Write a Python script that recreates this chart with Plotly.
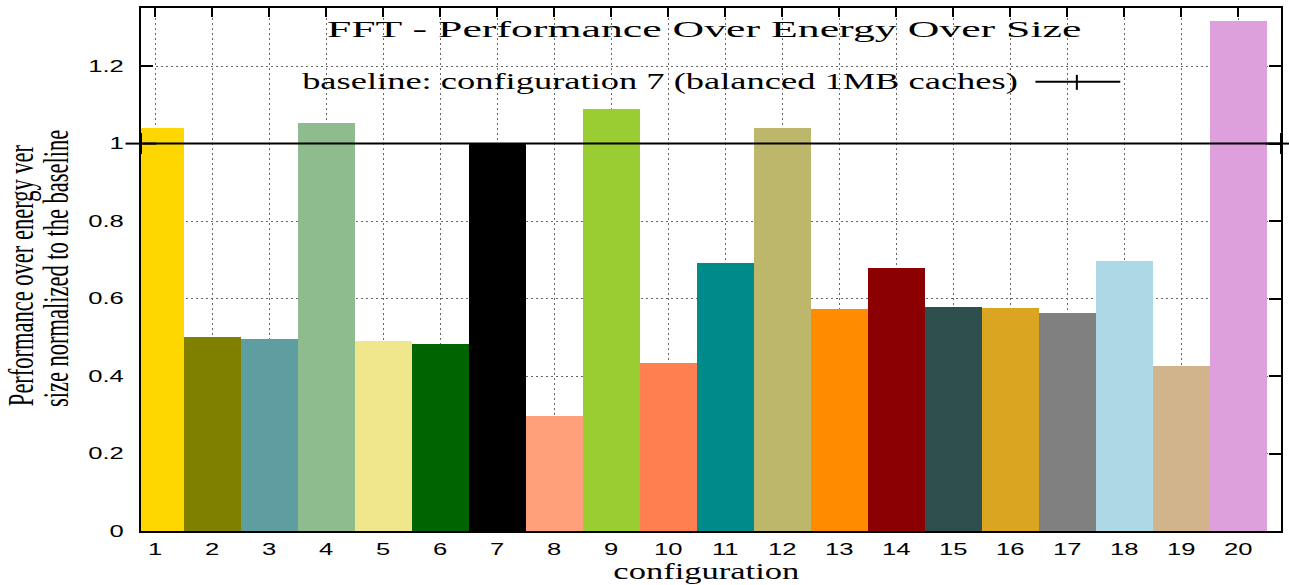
import plotly.graph_objects as go

# ---------------- data ----------------
configs = list(range(1, 21))
values = [1.039, 0.500, 0.495, 1.054, 0.490, 0.482, 1.000, 0.296, 1.090, 0.433,
          0.693, 1.039, 0.572, 0.678, 0.577, 0.575, 0.564, 0.698, 0.425, 1.317]
colors = ["#FFD700", "#808000", "#5F9EA0", "#8FBC8F", "#F0E68C", "#006400", "#000000",
          "#FFA07A", "#9ACD32", "#FF7F50", "#008B8B", "#BDB76B", "#FF8C00", "#8B0000",
          "#2F4F4F", "#DAA520", "#808080", "#ADD8E6", "#D2B48C", "#DDA0DD"]
baseline_value = 1.0
baseline_label = "baseline: configuration 7 (balanced 1MB caches)"
title_text = "FFT - Performance Over Energy Over Size"
x_title = "configuration"
y_title_lines = ["Performance over energy ver", "size normalized to the baseline"]
x_range = [0.75, 20.75]
y_range = [0, 1.35]
y_ticks = [0, 0.2, 0.4, 0.6, 0.8, 1.0, 1.2]
y_ticktext = ["0", "0.2", "0.4", "0.6", "0.8", "1", "1.2"]

# ---------------- layout helpers (pixel -> paper) ----------------
W, H = 1289, 585
ML, MR, MT, MB = 141, 6, 7, 54
PW, PH = W - ML - MR, H - MT - MB


def px(x):
    return (x - ML) / PW


def py(y):
    return (H - MB - y) / PH


SERIF = "Liberation Serif, Times New Roman, serif"
SANS = "Liberation Sans, Arial, sans-serif"

fig = go.Figure()
fig.add_trace(go.Bar(x=configs, y=values, marker=dict(color=colors, line=dict(width=0)),
                     width=1.0, showlegend=False, hoverinfo="x+y"))
fig.add_trace(go.Scatter(x=x_range, y=[baseline_value] * 2, mode="lines+markers",
                         line=dict(color="black", width=2),
                         marker=dict(symbol="line-ns", size=15, color="black",
                                     line=dict(width=2, color="black")),
                         cliponaxis=False, showlegend=False, name=baseline_label))
fig.add_trace(go.Scatter(x=x_range, y=[baseline_value] * 2, mode="markers",
                         marker=dict(symbol="line-ew", size=22, color="black",
                                     line=dict(width=2, color="black")),
                         cliponaxis=False, showlegend=False, hoverinfo="skip"))

axis_common = dict(
    showline=True, linecolor="black", linewidth=2, mirror="ticks",
    ticks="inside", tickcolor="black", tickwidth=1.5,
    showgrid=True, gridcolor="#666", gridwidth=1, griddash="2px,3px",
    zeroline=False, layer="below traces",
    tickfont=dict(family=SANS, size=16, color="black"),
)

fig.update_layout(
    width=W, height=H, autosize=False,
    margin=dict(l=ML, r=MR, t=MT, b=MB, pad=0),
    paper_bgcolor="white", plot_bgcolor="white",
    bargap=0,
    showlegend=False,
    title=dict(text=title_text, x=0.5, xanchor="center", y=1 - 29.1 / H, yanchor="middle",
               yref="container", font=dict(family=SERIF, size=24, color="black")),
    xaxis=dict(range=x_range, tickmode="array", tickvals=configs,
               ticklen=9, ticklabelstandoff=3, **axis_common),
    yaxis=dict(range=y_range, tickmode="array", tickvals=y_ticks, ticktext=y_ticktext,
               ticklen=12, ticklabelstandoff=12, **axis_common),
    annotations=[
        dict(text=baseline_label, xref="paper", yref="paper", x=px(1018), y=py(80.2),
             xanchor="right", yanchor="middle", showarrow=False,
             font=dict(family=SERIF, size=24, color="black")),
        dict(text=y_title_lines[0], xref="paper", yref="paper", x=px(21), y=py(274.5),
             xanchor="center", yanchor="middle", textangle=-90, showarrow=False,
             font=dict(family=SERIF, size=22.5, color="black")),
        dict(text=y_title_lines[1], xref="paper", yref="paper", x=px(56), y=py(268.5),
             xanchor="center", yanchor="middle", textangle=-90, showarrow=False,
             font=dict(family=SERIF, size=22.5, color="black")),
        dict(text=x_title, xref="paper", yref="paper", x=px(706.3), y=py(570.8),
             xanchor="center", yanchor="middle", showarrow=False,
             font=dict(family=SERIF, size=24, color="black")),
    ],
    shapes=[
        dict(type="line", xref="paper", yref="paper", x0=px(1037), x1=px(1122),
             y0=py(81), y1=py(81), line=dict(color="black", width=2)),
        dict(type="line", xref="paper", yref="paper", x0=px(1078.5), x1=px(1078.5),
             y0=py(74), y1=py(89), line=dict(color="black", width=2)),
    ],
)

post_js = r"""
var gd = document.getElementById('{plot_id}');
function fitAll(){
  var R = gd.getBoundingClientRect();
  function app(el, t){ el.setAttribute('transform', (el.getAttribute('transform') || '') + ' ' + t); }
  function hfit(el, L, Rt){
    var bb = el.getBBox(); var cr = el.getBoundingClientRect();
    var d = (cr.left - R.left) - bb.x; var s = (Rt - L) / bb.width;
    app(el, 'translate(' + (L - d) + ',0) scale(' + s + ',1) translate(' + (-bb.x) + ',0)');
  }
  function hscale(el, s, right){
    var bb = el.getBBox(); var a = right ? bb.x + bb.width : bb.x + bb.width / 2;
    app(el, 'translate(' + a + ',0) scale(' + s + ',1) translate(' + (-a) + ',0)');
  }
  function rfit(el, s, cx){
    var bb = el.getBBox(); var cy = bb.y + bb.height / 2;
    var cr = el.getBoundingClientRect(); var cur = (cr.left + cr.right) / 2 - R.left;
    var dy = cx - cur;
    app(el, 'translate(0,' + (cy + dy) + ') scale(1,' + s + ') translate(0,' + (-cy) + ')');
  }
  function ann(i){ return gd.querySelector('.annotation[data-index="' + i + '"] .annotation-text'); }
  var t = gd.querySelector('.gtitle'); if (t) hfit(t, 326.7, 1081.7);
  var a0 = ann(0); if (a0) hfit(a0, 302, 1018);
  var a1 = ann(1); if (a1) rfit(a1, 1.6, 20.9);
  var a2 = ann(2); if (a2) rfit(a2, 1.6, 55.9);
  var a3 = ann(3); if (a3) hfit(a3, 613.3, 799.3);
  gd.querySelectorAll('.xtick text').forEach(function(e){ hscale(e, 1.6, false); });
  gd.querySelectorAll('.ytick text').forEach(function(e){ hscale(e, 1.6, true); });
}
try { fitAll(); } catch (e) { console.log(e); }
"""

fig.write_html("out.html", config={"displayModeBar": False, "responsive": False},
               post_script=post_js)
